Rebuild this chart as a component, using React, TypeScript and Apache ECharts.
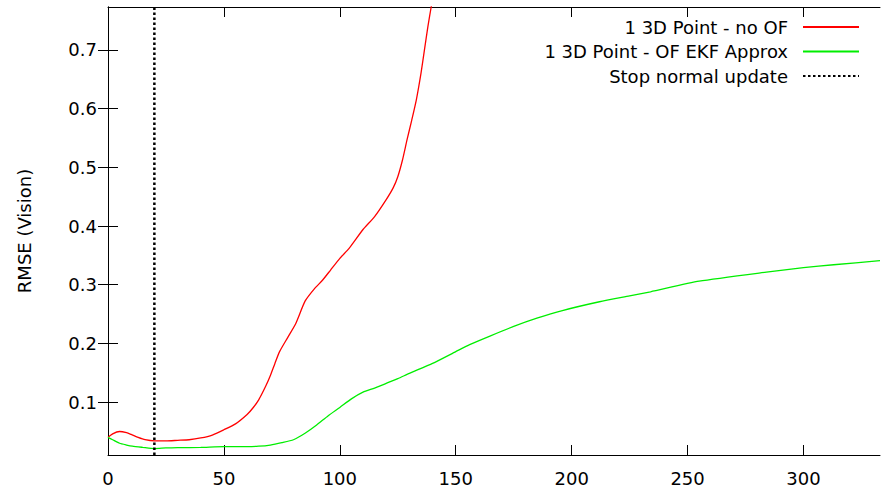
import React, { useEffect, useRef } from "react";
import * as echarts from "echarts";

const redX = [0, 2, 5, 8, 10, 13, 16, 20, 25, 30, 35, 40, 45, 50, 55, 60, 62.5, 65, 68, 70, 72, 74, 77.5, 81, 85, 89, 92.6, 96, 100, 104, 110, 115, 120, 123, 125, 127, 129, 131, 133, 135, 136.5, 138, 139.4, 141];
const redY = [0.040, 0.046, 0.050, 0.048, 0.045, 0.040, 0.036, 0.034, 0.034, 0.035, 0.036, 0.039, 0.044, 0.053, 0.063, 0.079, 0.090, 0.104, 0.127, 0.145, 0.166, 0.186, 0.210, 0.234, 0.272, 0.293, 0.308, 0.325, 0.345, 0.362, 0.394, 0.416, 0.445, 0.465, 0.484, 0.512, 0.547, 0.58, 0.615, 0.66, 0.70, 0.74, 0.773, 0.81];

const greenX = [0, 2, 5, 8, 10.5, 15, 20, 25, 30, 40, 50, 60, 65, 70, 75, 80, 85, 90, 95, 100, 105, 110, 115, 120, 125, 130, 140, 150, 156, 165, 175, 185, 196, 212, 225, 234, 255, 284, 300, 313, 333];
const greenY = [0.040, 0.036, 0.030, 0.027, 0.025, 0.023, 0.021, 0.022, 0.0225, 0.023, 0.0244, 0.0244, 0.025, 0.027, 0.031, 0.036, 0.047, 0.061, 0.077, 0.091, 0.1056, 0.117, 0.124, 0.132, 0.140, 0.149, 0.166, 0.186, 0.198, 0.213, 0.229, 0.243, 0.256, 0.271, 0.281, 0.288, 0.306, 0.3215, 0.329, 0.334, 0.341];

const stopX = 20;
const xTicks = [0, 50, 100, 150, 200, 250, 300];
const yTicks = [0.1, 0.2, 0.3, 0.4, 0.5, 0.6, 0.7];
const xMin = 0, xMax = 333, yMin = 0.01, yMax = 0.773;

const seriesNames = ["1 3D Point - no OF", "1 3D Point - OF EKF Approx", "Stop normal update"];
const FONT = "DejaVu Sans";

export default function App() {
  const ref = useRef<HTMLDivElement>(null);
  useEffect(() => {
    if (!ref.current) return;
    const chart = echarts.init(ref.current, undefined, { renderer: "svg" });
    const axisLine = { show: true, lineStyle: { color: "#000", width: 1 } };
    const tick = { show: true, inside: true, length: 10, lineStyle: { color: "#000", width: 1 } };
    chart.setOption({
      animation: false,
      grid: { left: 108, right: 5, top: 7, bottom: 33 },
      legend: {
        orient: "vertical",
        right: 20,
        top: 13,
        align: "right",
        itemWidth: 56,
        itemHeight: 18,
        itemGap: 6.5,
        itemStyle: { opacity: 0 },
        textStyle: { fontFamily: FONT, fontSize: 18, color: "#000", padding: [0, 10, 0, 0] },
        data: seriesNames,
      },
      xAxis: [
        {
          type: "value", min: xMin, max: xMax, position: "bottom",
          axisLine, axisTick: { ...tick, customValues: xTicks }, splitLine: { show: false },
          axisLabel: { customValues: xTicks, fontFamily: FONT, fontSize: 18, color: "#000", margin: 14 },
        },
        {
          type: "value", min: xMin, max: xMax, position: "top",
          axisLine, axisTick: { ...tick, customValues: xTicks }, splitLine: { show: false },
          axisLabel: { show: false },
        },
      ],
      yAxis: [
        {
          type: "value", min: yMin, max: yMax, position: "left",
          name: "RMSE (Vision)", nameLocation: "middle", nameGap: 75,
          nameTextStyle: { fontFamily: FONT, fontSize: 18, color: "#000" },
          axisLine, axisTick: { ...tick, customValues: yTicks }, splitLine: { show: false },
          axisLabel: {
            customValues: yTicks, fontFamily: FONT, fontSize: 18, color: "#000", margin: 11,
            formatter: (v: number) => v.toFixed(1),
          },
        },
        {
          type: "value", min: yMin, max: yMax, position: "right",
          axisLine, axisTick: { ...tick, customValues: yTicks }, splitLine: { show: false },
          axisLabel: { show: false },
        },
      ],
      series: [
        {
          name: seriesNames[0], type: "line", symbol: "none", smooth: 0.2,
          lineStyle: { color: "#ff0000", width: 1.3 }, itemStyle: { color: "#ff0000" },
          data: redX.map((x, i) => [x, redY[i]]), clip: true,
        },
        {
          name: seriesNames[1], type: "line", symbol: "none", smooth: 0.2,
          lineStyle: { color: "#00ee00", width: 1.3 }, itemStyle: { color: "#00ee00" },
          data: greenX.map((x, i) => [x, greenY[i]]), clip: true,
        },
        {
          name: seriesNames[2], type: "line", symbol: "none",
          lineStyle: { color: "#000", width: 2.5, type: [2.5, 2.5] }, itemStyle: { color: "#000" },
          data: [[stopX, yMin], [stopX, yMax]],
        },
      ],
    });
    return () => chart.dispose();
  }, []);
  return <div ref={ref} style={{ width: 885, height: 488, position: "absolute", left: 0, top: 0 }} />;
}
